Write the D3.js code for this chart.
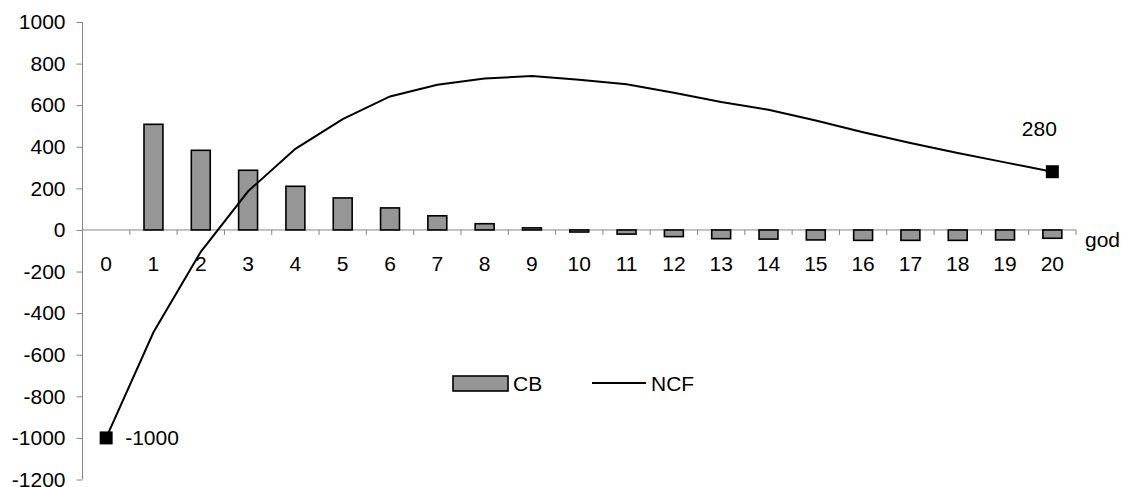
<!DOCTYPE html>
<html lang="en">
<head>
    <meta charset="UTF-8">
    <title>CB / NCF</title>
    <script src="https://d3js.org/d3.v7.min.js"></script>
    <style>
        body {
            margin: 0;
            background: #fff;
        }
        svg {
            display: block;
            font-family: 'Liberation Sans', Arial, sans-serif;
        }
        .axis path, .axis line {
            stroke: #868686;
        }
        .axis text {
            font-size: 21px;
            fill: #000;
        }
        .lbl {
            font-size: 21px;
            fill: #000;
        }
    </style>
</head>
<body>
    <svg id="chart" width="1122" height="487"></svg>

    <script>
        // data
        const years = d3.range(0, 21).map(String);
        const cbValues = [null, 508, 383, 287, 210, 154, 106, 68, 30, 10, -10, -20, -32, -42, -44, -48, -50, -50, -50, -48, -40];
        const ncfValues = [-1000, -492, -105, 186, 390, 533, 642, 698, 728, 740, 722, 701, 660, 615, 578, 526, 470, 418, 370, 325, 280];
        const yTicks = [1000, 800, 600, 400, 200, 0, -200, -400, -600, -800, -1000, -1200];

        const svg = d3.select("#chart");

        const x = d3.scaleBand()
                    .domain(years)
                    .range([82.5, 1076])
                    .padding(0);

        const y = d3.scaleLinear()
                    .domain([-1200, 1000])
                    .range([479.5, 22]);

        const barW = x.bandwidth() * 0.4;

        // y axis
        svg.append("g")
           .attr("class", "axis")
           .attr("transform", `translate(${x.range()[0]},0)`)
           .call(d3.axisLeft(y).tickValues(yTicks).tickFormat(d => String(d))
                   .tickSize(6).tickSizeOuter(0).tickPadding(11))
           .call(g => g.select(".domain").attr("d", `M0,${y(1000)}V${y(-1200)}`));

        // x axis line + boundary ticks
        const xAxis = svg.append("g")
                         .attr("class", "axis")
                         .attr("transform", `translate(0,${y(0)})`);

        xAxis.append("line")
             .attr("x1", x.range()[0]).attr("x2", x.range()[1])
             .attr("y1", 0).attr("y2", 0);

        xAxis.selectAll(".bt")
             .data(years.slice(1).concat(["end"]))
             .enter()
             .append("line")
             .attr("class", "bt")
             .attr("x1", d => d === "end" ? x.range()[1] : x(d))
             .attr("x2", d => d === "end" ? x.range()[1] : x(d))
             .attr("y1", 0).attr("y2", 5);

        // category labels
        svg.append("g")
           .attr("class", "axis")
           .attr("transform", `translate(0,${y(0)})`)
           .call(d3.axisBottom(x).tickSize(0).tickPadding(26))
           .call(g => g.select(".domain").remove());

        svg.append("text")
           .attr("class", "lbl")
           .attr("x", x.range()[1] + 9)
           .attr("y", y(0) + 17)
           .text("god");

        // CB bars
        const cbData = years.map((d, i) => ({ year: d, value: cbValues[i] })).filter(d => d.value !== null);

        svg.selectAll(".bar")
           .data(cbData)
           .enter()
           .append("rect")
           .attr("class", "bar")
           .attr("x", d => x(d.year) + (x.bandwidth() - barW) / 2)
           .attr("y", d => y(Math.max(0, d.value)))
           .attr("width", barW)
           .attr("height", d => Math.abs(y(d.value) - y(0)))
           .attr("fill", "#969696")
           .attr("stroke", "#000")
           .attr("stroke-width", 1.6);

        // NCF line
        const line = d3.line()
                       .x((d, i) => x(years[i]) + x.bandwidth() / 2)
                       .y(d => y(d));

        svg.append("path")
           .datum(ncfValues)
           .attr("fill", "none")
           .attr("stroke", "#000")
           .attr("stroke-width", 2)
           .attr("d", line);

        // end markers + labels
        const ends = [0, ncfValues.length - 1];
        svg.selectAll(".mk")
           .data(ends)
           .enter()
           .append("rect")
           .attr("class", "mk")
           .attr("x", i => x(years[i]) + x.bandwidth() / 2 - 6.5)
           .attr("y", i => y(ncfValues[i]) - 6.5)
           .attr("width", 13)
           .attr("height", 13)
           .attr("fill", "#000");

        svg.append("text")
           .attr("class", "lbl")
           .attr("x", x(years[0]) + x.bandwidth() / 2 + 19)
           .attr("y", y(ncfValues[0]) + 7)
           .text(String(ncfValues[0]));

        const last = ncfValues.length - 1;
        svg.append("text")
           .attr("class", "lbl")
           .attr("x", x(years[last]) + x.bandwidth() / 2 - 13)
           .attr("y", y(ncfValues[last]) - 36)
           .attr("text-anchor", "middle")
           .text(String(ncfValues[last]));

        // legend
        const legend = svg.append("g").attr("transform", "translate(453,376)");
        legend.append("rect")
              .attr("width", 55).attr("height", 15)
              .attr("fill", "#969696").attr("stroke", "#000").attr("stroke-width", 1.6);
        legend.append("text").attr("class", "lbl").attr("x", 60).attr("y", 15).text("CB");
        legend.append("line")
              .attr("x1", 139).attr("x2", 193).attr("y1", 7).attr("y2", 7)
              .attr("stroke", "#000").attr("stroke-width", 2);
        legend.append("text").attr("class", "lbl").attr("x", 198).attr("y", 15).text("NCF");
    </script>
</body>
</html>
